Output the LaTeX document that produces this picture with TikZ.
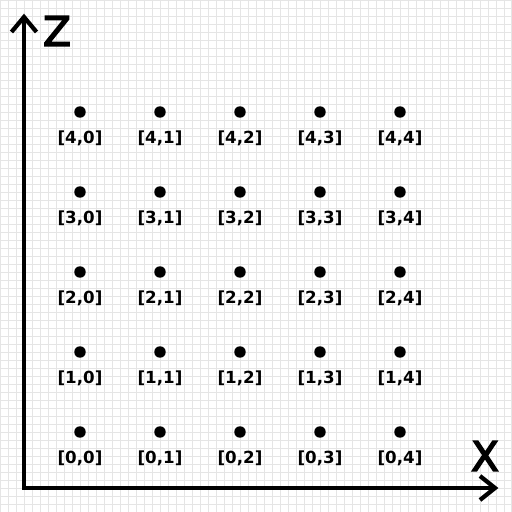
\documentclass[tikz,border=0pt]{standalone}
\usepackage{fontspec}
\setmainfont{DejaVu Sans}
\newfontfamily\axfont[FakeBold=3.5]{DejaVu Sans}
\begin{document}
\begin{tikzpicture}[x=0.75pt,y=-0.75pt,
  gridline/.style={draw=black!10, line width=0.75pt},
  axis/.style={line width=3.2pt, line join=miter},
  dot/.style={circle, fill=black, inner sep=0pt, minimum size=8.6pt},
  lbl/.style={font=\bfseries\fontsize{12.5}{14}\selectfont, inner sep=0pt},
  axlabel/.style={font=\axfont\fontsize{30.5}{32}\selectfont, inner sep=0pt}]
\useasboundingbox (0,0) rectangle (512,512);
\fill[white] (0,0) rectangle (512,512);
\draw[gridline] (0,0) grid[step=6pt] (512,512);
\foreach \r in {0,...,4} {
  \foreach \c in {0,...,4} {
    \node[dot] (d\r\c) at ({80+80*\c},{432-80*\r}) {};
    \node[lbl] (l\r\c) at ({80+80*\c},{432-80*\r+26.5}) {[\r,\c]};
  }
}
\coordinate (o) at (24,488);
\coordinate (zt) at (24,17);
\coordinate (xt) at (495,488);
\coordinate (za) at (11.5,32);
\coordinate (zb) at (36.5,32);
\coordinate (xa) at (480,476);
\coordinate (xb) at (480,500);
\draw[axis] (zt) -- (o) -- (xt);
\draw[axis] (za) -- (zt) -- (zb);
\draw[axis] (xa) -- (xt) -- (xb);
\node[axlabel] (zlabel) at (57,31) {Z};
\node[axlabel] (xlabel) at (485,456) {X};
\end{tikzpicture}
\end{document}
